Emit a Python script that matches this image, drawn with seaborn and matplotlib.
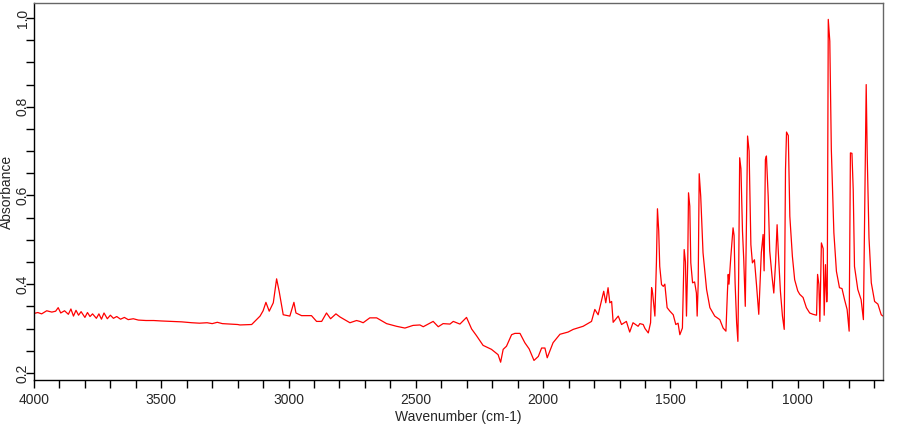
#!/usr/bin/env python3

import pandas as pd
import matplotlib.pyplot as plt
import matplotlib.transforms as mtransforms
import seaborn as sns
from matplotlib.ticker import MultipleLocator

# IR spectrum
wavenumber = [
    4000, 3985, 3970, 3950, 3930, 3915, 3905, 3895, 3880, 3865, 3855, 3845,
    3835, 3825, 3815, 3800, 3790, 3780, 3770, 3755, 3745, 3735, 3725, 3712,
    3700, 3688, 3675, 3660, 3645, 3630, 3610, 3590, 3560, 3530, 3500, 3460,
    3420, 3380, 3350, 3320, 3300, 3280, 3260, 3230, 3200,
    3191, 3145, 3112, 3100, 3089, 3076, 3060, 3047, 3037, 3021, 2995, 2979,
    2971, 2949, 2910, 2890, 2870, 2851, 2835, 2814, 2798, 2759, 2733, 2720,
    2707, 2681, 2654, 2615, 2576, 2543, 2511, 2484, 2471, 2432, 2412, 2393,
    2366, 2353, 2327, 2301, 2281, 2262, 2236, 2203, 2177, 2167, 2157, 2144,
    2124, 2111, 2091, 2072, 2055, 2036, 2019, 2006, 1993, 1984, 1961, 1934,
    1902, 1882, 1843, 1810, 1797, 1784, 1762, 1754, 1745, 1738, 1731, 1725,
    1705, 1692, 1673, 1660, 1647, 1627,
    1620, 1607, 1600, 1587, 1578, 1574, 1570, 1561, 1555, 1551, 1546, 1542,
    1535, 1528, 1522, 1513, 1502, 1489, 1479, 1470, 1463, 1453, 1449, 1446,
    1441, 1437, 1432, 1429, 1424, 1420, 1413, 1405, 1398, 1395, 1391, 1387,
    1381, 1372, 1358, 1345, 1326, 1306, 1293, 1282, 1276, 1273, 1270, 1263,
    1254, 1250, 1246, 1240, 1235, 1232, 1228, 1223, 1217, 1212, 1206, 1201,
    1197, 1191, 1184, 1178, 1170, 1162, 1153, 1148, 1143, 1136, 1132, 1127,
    1123, 1116, 1110, 1101, 1094, 1087, 1081, 1076, 1068, 1060, 1053, 1048,
    1044, 1037, 1031, 1021, 1012, 1000, 992, 979, 966, 953, 940, 926,
    922, 917, 913, 907, 900, 896, 891, 886, 884, 880, 874, 868,
    858, 848, 836, 826, 816, 806, 798, 793, 787, 782, 777, 764,
    751, 742, 734, 731, 727, 720, 711, 698, 685, 672, 665,
]
absorbance = [
    0.334, 0.336, 0.333, 0.340, 0.337, 0.339, 0.347, 0.335, 0.340, 0.332, 0.344, 0.328,
    0.341, 0.330, 0.338, 0.325, 0.336, 0.327, 0.333, 0.323, 0.333, 0.321, 0.335, 0.322,
    0.330, 0.323, 0.327, 0.321, 0.325, 0.320, 0.322, 0.319, 0.318, 0.318, 0.317, 0.316,
    0.315, 0.313, 0.312, 0.313, 0.311, 0.314, 0.311, 0.310, 0.309,
    0.308, 0.309, 0.328, 0.340, 0.359, 0.339, 0.358, 0.412, 0.384, 0.331, 0.328, 0.359,
    0.335, 0.329, 0.329, 0.316, 0.316, 0.335, 0.322, 0.333, 0.326, 0.313, 0.318, 0.316,
    0.313, 0.324, 0.324, 0.311, 0.305, 0.301, 0.307, 0.308, 0.304, 0.316, 0.304, 0.311,
    0.310, 0.316, 0.310, 0.325, 0.299, 0.284, 0.262, 0.253, 0.241, 0.224, 0.253, 0.260,
    0.286, 0.289, 0.289, 0.268, 0.254, 0.228, 0.237, 0.256, 0.256, 0.234, 0.268, 0.287,
    0.292, 0.298, 0.305, 0.316, 0.343, 0.331, 0.384, 0.358, 0.392, 0.358, 0.361, 0.314,
    0.328, 0.309, 0.316, 0.292, 0.313, 0.305,
    0.311, 0.309, 0.300, 0.290, 0.313, 0.392, 0.380, 0.328, 0.450, 0.570, 0.520, 0.440,
    0.399, 0.395, 0.400, 0.347, 0.339, 0.331, 0.309, 0.312, 0.286, 0.301, 0.400, 0.478,
    0.450, 0.328, 0.450, 0.606, 0.576, 0.448, 0.403, 0.405, 0.380, 0.328, 0.400, 0.649,
    0.598, 0.471, 0.388, 0.347, 0.328, 0.320, 0.301, 0.294, 0.384, 0.422, 0.400, 0.460,
    0.527, 0.510, 0.403, 0.313, 0.271, 0.420, 0.685, 0.660, 0.520, 0.455, 0.350, 0.553,
    0.734, 0.700, 0.489, 0.448, 0.455, 0.399, 0.332, 0.400, 0.471, 0.512, 0.430, 0.681,
    0.689, 0.598, 0.475, 0.418, 0.380, 0.448, 0.534, 0.470, 0.384, 0.328, 0.298, 0.658,
    0.743, 0.735, 0.553, 0.463, 0.410, 0.385, 0.377, 0.370, 0.347, 0.335, 0.332, 0.330,
    0.422, 0.400, 0.316, 0.493, 0.480, 0.330, 0.444, 0.360, 0.380, 0.997, 0.948, 0.704,
    0.516, 0.429, 0.392, 0.390, 0.365, 0.343, 0.294, 0.696, 0.695, 0.613, 0.440, 0.388,
    0.365, 0.320, 0.692, 0.850, 0.690, 0.504, 0.403, 0.361, 0.355, 0.331, 0.328,
]

df = pd.DataFrame({"Wavenumber": wavenumber, "Absorbance": absorbance})

sns.set_style("white")
plt.rcParams["font.family"] = ["Liberation Sans", "DejaVu Sans"]

fig = plt.figure(figsize=(9.09, 4.25), dpi=100)
ax = fig.add_axes([0.0374, 0.106, 0.934, 0.887])

sns.lineplot(df, x="Wavenumber", y="Absorbance", color="#ff0000",
             linewidth=0.9, estimator=None, sort=False, ax=ax)

ax.set_xlim(4000, 665)
ax.set_ylim(0.184, 1.034)
ax.xaxis.set_major_locator(MultipleLocator(500))
ax.xaxis.set_minor_locator(MultipleLocator(100))
ax.yaxis.set_major_locator(MultipleLocator(0.2))
ax.yaxis.set_minor_locator(MultipleLocator(0.05))
ax.tick_params(which="both", direction="out", length=6, width=1,
               color="black", labelsize=10, bottom=True, left=True)
ax.tick_params(axis="y", which="major", labelrotation=90, pad=0)
ax.yaxis.set_major_formatter(plt.FuncFormatter(lambda v, p: "{:.1f}".format(v)))

# rotated labels carry their descent on the right; nudge them towards the ticks
shift = mtransforms.ScaledTranslation(3 / 72, 0, fig.dpi_scale_trans)
for lab in ax.get_yticklabels():
    lab.set_va("center")
    lab.set_transform(lab.get_transform() + shift)

for side in ["bottom", "left"]:
    ax.spines[side].set_color("black")
    ax.spines[side].set_linewidth(1)
for side in ["top", "right"]:
    ax.spines[side].set_color("#666666")
    ax.spines[side].set_linewidth(1)

ax.set_xlabel("Wavenumber (cm-1)", fontsize=10, labelpad=2)
ax.set_ylabel("Absorbance", fontsize=10)
ax.yaxis.set_label_coords(-0.024, 0.5)

fig.savefig("out.png", dpi=100)
